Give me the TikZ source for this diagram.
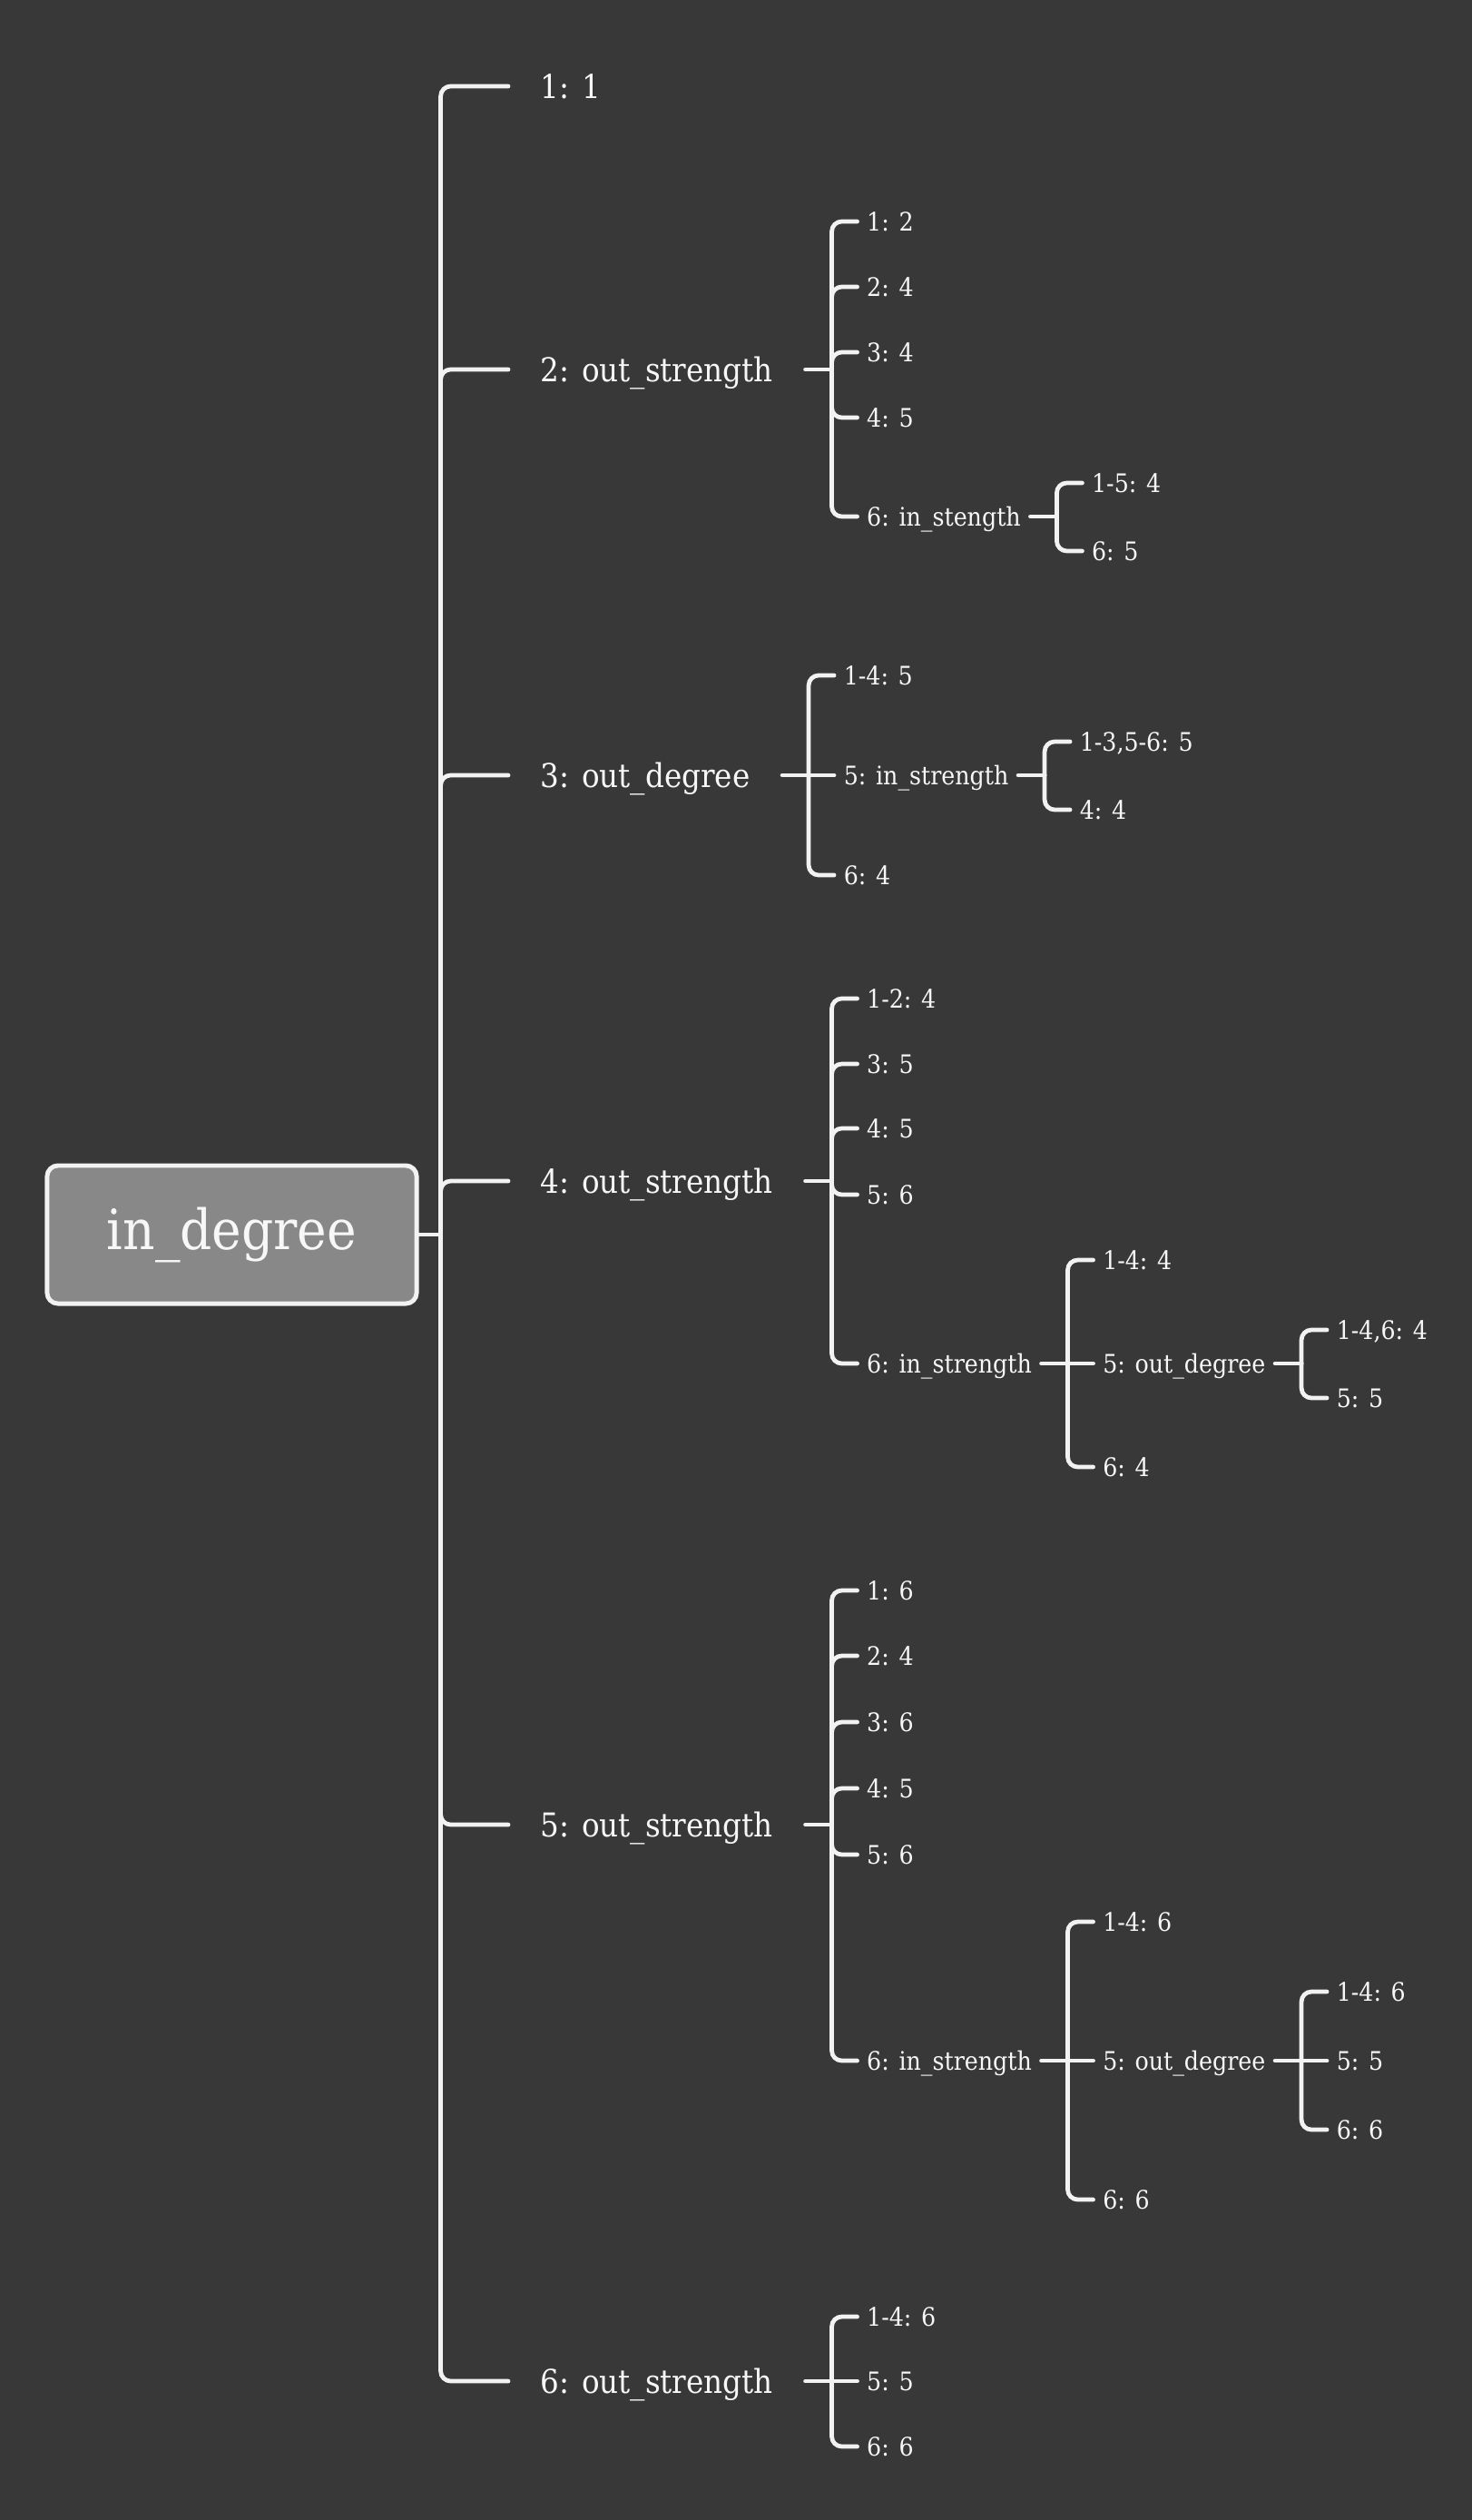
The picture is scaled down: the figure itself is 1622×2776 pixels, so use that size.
\documentclass[tikz,border=0pt]{standalone}
\usepackage{fontspec}
\setmainfont{DejaVu Serif Condensed}
\usepackage{tikz}
\usetikzlibrary{calc}
\definecolor{canvas}{HTML}{383838}
\definecolor{rootfill}{HTML}{888888}
\definecolor{wire}{HTML}{F2F2F2}
\definecolor{label}{HTML}{F7F7F7}
\tikzset{
  rootbox/.style={draw=wire,fill=rootfill,rounded corners=1.2mm,line width=1.4pt,minimum width=4.07cm,minimum height=1.52cm,text=label,font=\fontsize{17.4}{20}\selectfont},
  topic/.style={anchor=west,inner xsep=3.5mm,text=label,font=\fontsize{10.3}{12}\selectfont,text height=7.5pt,text depth=0pt},
  leaf/.style={anchor=west,inner xsep=1mm,text=label,font=\fontsize{8}{10}\selectfont,text height=5.85pt,text depth=0pt},
  branch/.style={draw=wire,line width=1.35pt,line cap=round,rounded corners=1.1mm},
}
\newcommand{\fanout}[2]{%
  \coordinate (#1-hub) at ($(#1.east)+(29,0)$);
  \draw[branch] (#1.east) -- (#1-hub);
  \foreach \k/\dy/\t in {#2}{
    \node[leaf] (#1-\k) at ($(#1.east)+(57,\dy)$) {\t};
    \ifnum\dy=0 \draw[branch] (#1-hub) -- (#1-\k.west);
    \else \draw[branch] (#1-hub) |- (#1-\k.west); \fi}}

\begin{document}
\begin{tikzpicture}[x=0.01cm,y=-0.01cm]
  \fill[canvas] (0,0) rectangle (1622,2776);
  \node[rootbox] (root) at (255.5,1360) {in\_degree};
  \coordinate (trunk) at ($(root.east)+(24,0)$);
  \draw[branch] (root.east) -- (trunk);
  \foreach \n/\y/\t in {1/95/{1: 1},2/407/{2: out\_strength},3/854/{3: out\_degree},
      4/1301/{4: out\_strength},5/2010/{5: out\_strength},6/2623/{6: out\_strength}}
    {\node[topic] (t\n) at (560,\y) {\t};
     \draw[branch] (trunk) |- (t\n.west);}
  \fanout{t2}{1/-163/{1: 2},2/-91/{2: 4},3/-19/{3: 4},4/53/{4: 5},5/162/{6: in\_stength}}
  \fanout{t2-5}{1/-37/{1-5: 4},2/38/{6: 5}}
  \fanout{t3}{1/-110/{1-4: 5},2/0/{5: in\_strength},3/110/{6: 4}}
  \fanout{t3-2}{1/-37/{1-3,5-6: 5},2/38/{4: 4}}
  \fanout{t4}{1/-201/{1-2: 4},2/-129/{3: 5},3/-58/{4: 5},4/15/{5: 6},5/201/{6: in\_strength}}
  \fanout{t4-5}{1/-114/{1-4: 4},2/0/{5: out\_degree},3/114/{6: 4}}
  \fanout{t4-5-2}{1/-37/{1-4,6: 4},2/38/{5: 5}}
  \fanout{t5}{1/-258/{1: 6},2/-186/{2: 4},3/-113/{3: 6},4/-40/{4: 5},5/33/{5: 6},6/260/{6: in\_strength}}
  \fanout{t5-6}{1/-153/{1-4: 6},2/0/{5: out\_degree},3/153/{6: 6}}
  \fanout{t5-6-2}{1/-76/{1-4: 6},2/0/{5: 5},3/76/{6: 6}}
  \fanout{t6}{1/-71/{1-4: 6},2/0/{5: 5},3/72/{6: 6}}
\end{tikzpicture}
\end{document}
